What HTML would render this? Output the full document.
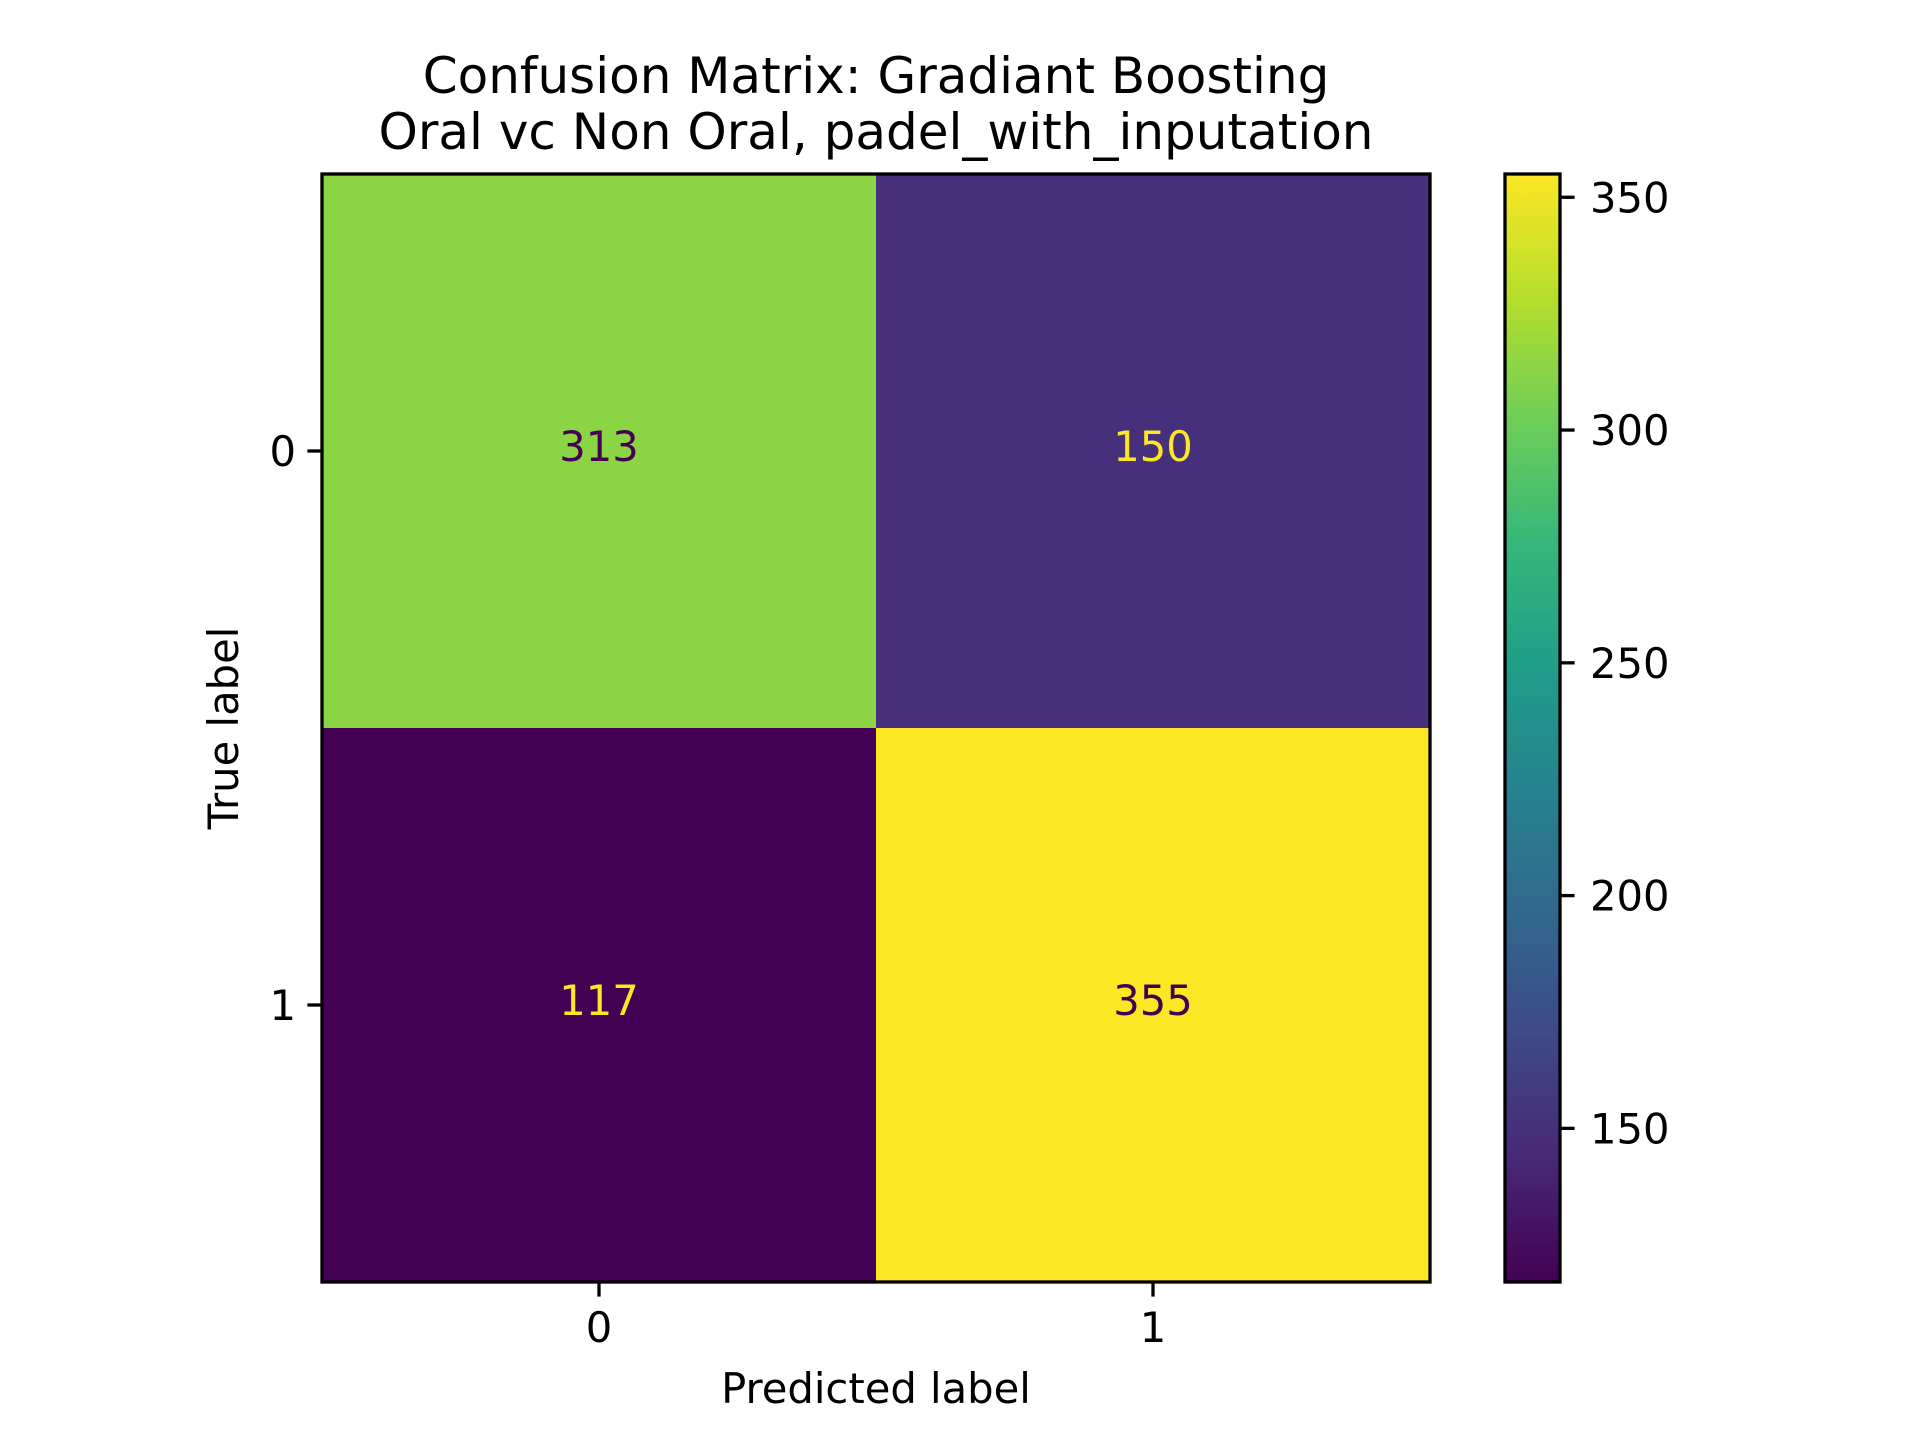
<!DOCTYPE html>
<html><head><meta charset="utf-8"><style>
html,body{margin:0;padding:0;background:#fff;}
svg text{font-family:"DejaVu Sans","Liberation Sans",sans-serif;font-size:41.7px;}
svg text.title{font-size:50px;}
</style></head><body>
<svg id="chart" width="1920" height="1440" xmlns="http://www.w3.org/2000/svg">
<rect width="1920" height="1440" fill="#fff"/>
<defs><linearGradient id="vir" x1="0" y1="1" x2="0" y2="0"></linearGradient></defs>
<text class="title" x="876" y="93" text-anchor="middle">Confusion Matrix: Gradiant Boosting</text>
<text class="title" x="876" y="149" text-anchor="middle">Oral vc Non Oral, padel_with_inputation</text>
<g id="cells"></g>
<g id="axes"></g>
</svg>
<script>
const trueLabels = ["0","1"];
const predLabels = ["0","1"];
const matrixValues = [[313,150],[117,355]];
const cbTicks = [150,200,250,300,350];

const ns="http://www.w3.org/2000/svg";
const svg=document.getElementById('chart');
const cells=document.getElementById('cells');
const axes=document.getElementById('axes');
const L=322,R=1430,T=174,B=1282;
const CBL=1505,CBR=1560;
const flat=matrixValues.flat();
const vmin=Math.min(...flat), vmax=Math.max(...flat);
const stops=["#440154","#482878","#3e4989","#31688e","#26828e","#1f9e89","#35b779","#6ece58","#b5de2b","#fde725"];
function hex(h){return [1,3,5].map(i=>parseInt(h.substr(i,2),16));}
function viridis(t){t=Math.max(0,Math.min(1,t));const p=t*(stops.length-1);const i=Math.min(Math.floor(p),stops.length-2);const f=p-i;const a=hex(stops[i]),b=hex(stops[i+1]);return "rgb("+a.map((v,k)=>Math.round(v+(b[k]-v)*f)).join(",")+")";}
function el(tag,attrs){const e=document.createElementNS(ns,tag);for(const k in attrs)e.setAttribute(k,attrs[k]);return e;}
const nR=trueLabels.length,nC=predLabels.length;
const cw=(R-L)/nC,ch=(B-T)/nR;
function xC(j){return L+cw*(j+0.5);}
function yC(i){return T+ch*(i+0.5);}
function cbY(v){return B-(v-vmin)/(vmax-vmin)*(B-T);}
for(let i=0;i<nR;i++)for(let j=0;j<nC;j++){
  const v=matrixValues[i][j];const t=(v-vmin)/(vmax-vmin);
  const r=el('rect',{x:L+cw*j,y:T+ch*i,width:cw+0.5,height:ch+0.5,fill:viridis(t)});
  
  
  cells.appendChild(r);
  const tx=el('text',{x:xC(j),y:yC(i)+10,'text-anchor':'middle',fill:(t<0.5?'#fde725':'#440154')});
  tx.textContent=v;
  
  
  cells.appendChild(tx);
}
const frame=el('rect',{x:L,y:T,width:R-L,height:B-T,fill:'none',stroke:'#000','stroke-width':3.3});


axes.appendChild(frame);
trueLabels.forEach((lab,i)=>{
  axes.appendChild(el('line',{x1:L-14.6,x2:L,y1:yC(i),y2:yC(i),stroke:'#000','stroke-width':3.3}));
  const t=el('text',{x:L-26,y:yC(i)+15,'text-anchor':'end'});t.textContent=lab;
  
  
  axes.appendChild(t);
});
predLabels.forEach((lab,j)=>{
  axes.appendChild(el('line',{x1:xC(j),x2:xC(j),y1:B,y2:B+14.6,stroke:'#000','stroke-width':3.3}));
  const t=el('text',{x:xC(j),y:B+60,'text-anchor':'middle'});t.textContent=lab;
  
  
  axes.appendChild(t);
});
const xt=el('text',{x:(L+R)/2,y:1403,'text-anchor':'middle'});xt.textContent='Predicted label';


axes.appendChild(xt);
const yt=el('text',{x:0,y:0,'text-anchor':'middle',transform:'translate(238,'+((T+B)/2)+') rotate(-90)'});yt.textContent='True label';


axes.appendChild(yt);
const g=document.getElementById('vir');
stops.forEach((c,k)=>{g.appendChild(el('stop',{offset:k/(stops.length-1),'stop-color':c}));});
const cb=el('rect',{x:CBL,y:T,width:CBR-CBL,height:B-T,fill:'url(#vir)',stroke:'#000','stroke-width':3.3});


axes.appendChild(cb);
cbTicks.forEach(v=>{
  const y=cbY(v);
  axes.appendChild(el('line',{x1:CBR,x2:CBR+14.6,y1:y,y2:y,stroke:'#000','stroke-width':3.3}));
  const t=el('text',{x:CBR+30,y:y+15});t.textContent=v;
  
  
  axes.appendChild(t);
});
</script>
</body></html>
